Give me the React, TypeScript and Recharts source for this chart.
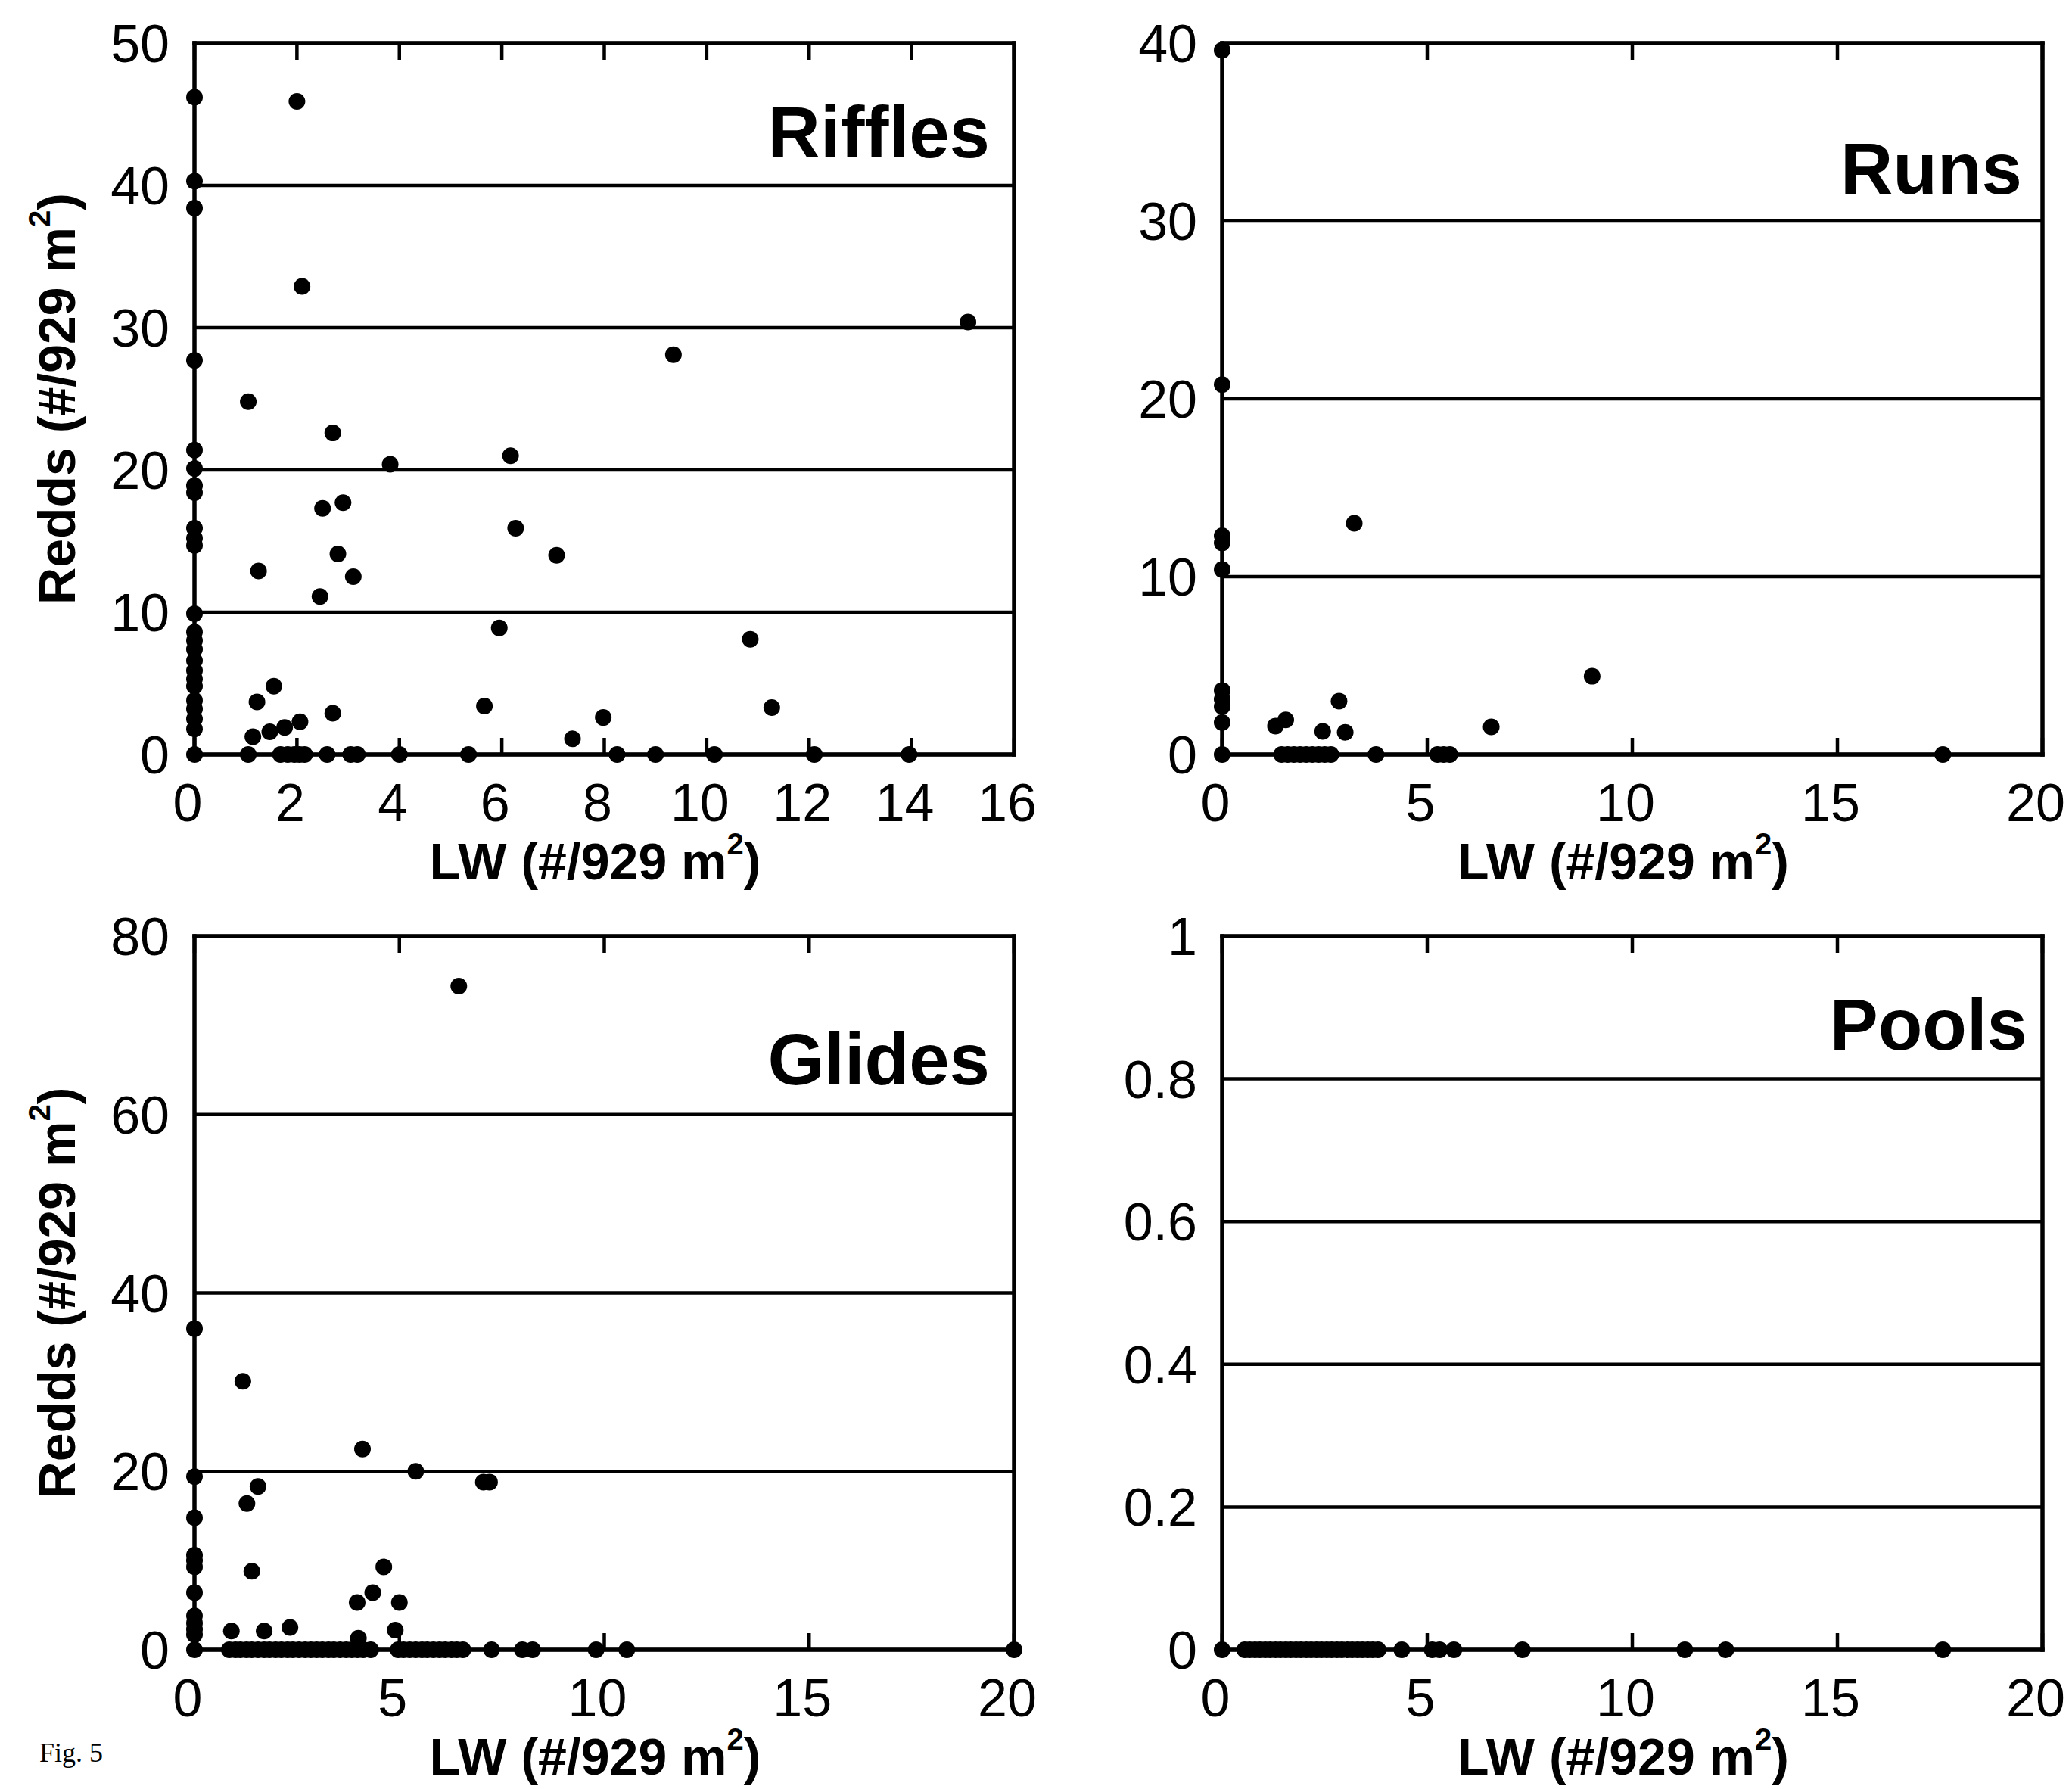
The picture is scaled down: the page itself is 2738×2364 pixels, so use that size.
import React from 'react';
import { ScatterChart, Scatter, XAxis, YAxis, CartesianGrid } from 'recharts';

type Pt = [number, number];

// ---------- data ----------
const rifflesPoints: Pt[] = [
  [0, 46.2], [0, 40.3], [0, 38.4], [0, 27.7], [0, 21.4], [0, 20.1], [0, 18.9], [0, 18.4],
  [0, 15.9], [0, 15.2], [0, 14.7], [0, 9.9], [0, 8.6], [0, 8.0], [0, 7.4], [0, 6.6],
  [0, 5.9], [0, 5.3], [0, 4.8], [0, 3.8], [0, 3.2], [0, 2.5], [0, 1.8], [0, 0],
  [2.0, 45.9], [2.1, 32.9], [15.1, 30.4], [9.35, 28.1], [1.05, 24.8], [2.7, 22.6],
  [3.82, 20.4], [6.17, 21.0], [2.5, 17.3], [2.9, 17.7], [6.27, 15.9], [2.8, 14.1],
  [7.07, 14.0], [1.25, 12.9], [3.1, 12.5], [2.45, 11.1], [5.95, 8.9], [10.85, 8.1],
  [1.55, 4.8], [1.22, 3.7], [5.66, 3.4], [11.27, 3.3], [2.7, 2.9], [7.98, 2.6],
  [2.06, 2.3], [1.76, 1.9], [1.47, 1.6], [1.14, 1.25], [7.38, 1.1],
  [1.05, 0], [1.68, 0], [1.82, 0], [1.95, 0], [2.05, 0], [2.15, 0], [2.59, 0],
  [3.05, 0], [3.18, 0], [4.0, 0], [5.35, 0], [8.25, 0], [9.0, 0], [10.15, 0],
  [12.1, 0], [13.95, 0],
];

const runsPoints: Pt[] = [
  [0, 39.6], [0, 20.8], [0, 12.3], [0, 11.9], [0, 10.4], [0, 3.6], [0, 3.1], [0, 2.7],
  [0, 1.8], [0, 0],
  [3.22, 13.0], [9.02, 4.4], [2.85, 3.0], [1.3, 1.6], [1.55, 1.95], [2.45, 1.3],
  [3.0, 1.25], [6.56, 1.55],
  [1.45, 0], [1.6, 0], [1.75, 0], [1.9, 0], [2.05, 0], [2.2, 0], [2.35, 0], [2.5, 0],
  [2.65, 0], [3.75, 0], [5.25, 0], [5.4, 0], [5.55, 0], [17.57, 0],
];

const glidesPoints: Pt[] = [
  [0, 36.0], [0, 19.4], [0, 14.8], [0, 10.6], [0, 10.0], [0, 9.3], [0, 6.4], [0, 3.8],
  [0, 3.0], [0, 2.3], [0, 1.7], [0, 0],
  [6.45, 74.4], [1.18, 30.1], [4.1, 22.5], [5.4, 20.0], [7.05, 18.8], [7.2, 18.8],
  [1.55, 18.3], [1.28, 16.4], [1.4, 8.8], [4.62, 9.3], [4.35, 6.4], [3.97, 5.3],
  [5.0, 5.3], [2.33, 2.5], [0.9, 2.1], [1.7, 2.1], [4.9, 2.2], [4.0, 1.3],
  [0.85, 0], [1.0, 0], [1.12, 0], [1.27, 0], [1.4, 0], [1.55, 0], [1.7, 0], [1.83, 0],
  [1.98, 0], [2.12, 0], [2.27, 0], [2.4, 0], [2.55, 0], [2.7, 0], [2.84, 0], [2.98, 0],
  [3.12, 0], [3.27, 0], [3.4, 0], [3.55, 0], [3.7, 0], [3.84, 0], [3.98, 0], [4.12, 0],
  [4.3, 0], [4.97, 0], [5.1, 0], [5.25, 0], [5.4, 0], [5.55, 0], [5.68, 0], [5.83, 0],
  [5.98, 0], [6.12, 0], [6.27, 0], [6.4, 0], [6.55, 0], [7.25, 0], [8.0, 0], [8.25, 0],
  [9.8, 0], [10.55, 0], [20, 0],
];

const poolsPoints: Pt[] = [
  [0, 0], [0.55, 0], [0.67, 0], [0.8, 0], [0.92, 0], [1.05, 0], [1.17, 0], [1.3, 0],
  [1.42, 0], [1.55, 0], [1.67, 0], [1.8, 0], [1.92, 0], [2.05, 0], [2.17, 0], [2.3, 0],
  [2.42, 0], [2.55, 0], [2.67, 0], [2.8, 0], [2.92, 0], [3.05, 0], [3.17, 0], [3.3, 0],
  [3.42, 0], [3.55, 0], [3.67, 0], [3.8, 0], [4.38, 0], [5.12, 0], [5.3, 0], [5.65, 0],
  [7.32, 0], [11.28, 0], [12.28, 0], [17.57, 0],
];

const rifflesXTicks = [0, 2, 4, 6, 8, 10, 12, 14, 16];
const rifflesYTicks = [0, 10, 20, 30, 40, 50];
const runsXTicks = [0, 5, 10, 15, 20];
const runsYTicks = [0, 10, 20, 30, 40];
const glidesXTicks = [0, 5, 10, 15, 20];
const glidesYTicks = [0, 20, 40, 60, 80];
const poolsXTicks = [0, 5, 10, 15, 20];
const poolsYTicks = [0, 0.2, 0.4, 0.6, 0.8, 1];

const titles = ['Riffles', 'Runs', 'Glides', 'Pools'];
const xLabelText = 'LW (#/929 m';
const yLabelText = 'Redds (#/929 m';
const figLabel = 'Fig. 5';

// ---------- layout ----------
const FONT = '"Liberation Sans", Arial, Helvetica, sans-serif';
const W = 1369;
const H = 1182;
const TICK_LEN = 22;
const TICK_W = 4.5;

interface PanelProps {
  points: Pt[];
  xTicks: number[];
  yTicks: number[];
  title: string;
  titleDx: number;
  titleDy: number;
  showYLabel: boolean;
  plotLeft: number;
  plotTop: number;
  plotRight: number;
  plotBottom: number;
  fig?: boolean;
}

function Panel(p: PanelProps) {
  const data = p.points.map(([x, y]) => ({ x, y }));
  const xDomain: [number, number] = [p.xTicks[0], p.xTicks[p.xTicks.length - 1]];
  const yDomain: [number, number] = [p.yTicks[0], p.yTicks[p.yTicks.length - 1]];
  const cx = (p.plotLeft + p.plotRight) / 2;
  const cy = (p.plotTop + p.plotBottom) / 2;
  const lineStyle = { stroke: '#000', strokeWidth: 5.5, strokeLinecap: 'square' as const };

  const BottomTick = (tp: any) => (
    <g>
      <rect
        x={tp.x - TICK_W / 2}
        y={p.plotBottom - TICK_LEN}
        width={TICK_W}
        height={TICK_LEN}
        fill="#000"
      />
      <rect
        x={tp.x - TICK_W / 2}
        y={p.plotTop}
        width={TICK_W}
        height={TICK_LEN}
        fill="#000"
      />
      <text
        x={tp.x - 9}
        y={p.plotBottom + 88}
        textAnchor="middle"
        fontFamily={FONT}
        fontSize={70}
        fill="#000"
      >
        {String(tp.payload.value)}
      </text>
    </g>
  );
  const LeftTick = (tp: any) => (
    <text
      x={p.plotLeft - 33}
      y={tp.y}
      dy={25}
      textAnchor="end"
      fontFamily={FONT}
      fontSize={70}
      fill="#000"
    >
      {String(tp.payload.value)}
    </text>
  );
  const NoTick = () => <g />;

  return (
    <ScatterChart
      width={W}
      height={H}
      margin={{ top: p.plotTop - 1, left: 0, right: W - p.plotRight - 1, bottom: 0 }}
    >
      <CartesianGrid
        xAxisId="b"
        yAxisId="l"
        horizontal
        vertical={false}
        stroke="#000"
        strokeWidth={4.5}
        fill="none"
      />
      <XAxis
        xAxisId="b"
        dataKey="x"
        type="number"
        orientation="bottom"
        domain={xDomain}
        ticks={p.xTicks}
        interval={0}
        height={H - p.plotBottom}
        axisLine={lineStyle}
        tickLine={false}
        tick={BottomTick}
      />
      <XAxis
        xAxisId="t"
        type="number"
        orientation="top"
        domain={xDomain}
        ticks={p.xTicks}
        interval={0}
        height={1}
        allowDataOverflow
        axisLine={lineStyle}
        tickLine={false}
        tick={NoTick}
      />
      <YAxis
        yAxisId="l"
        dataKey="y"
        type="number"
        orientation="left"
        domain={yDomain}
        ticks={p.yTicks}
        interval={0}
        width={p.plotLeft}
        axisLine={lineStyle}
        tickLine={false}
        tick={LeftTick}
      />
      <YAxis
        yAxisId="r"
        type="number"
        orientation="right"
        domain={yDomain}
        ticks={p.yTicks}
        interval={0}
        width={1}
        allowDataOverflow
        axisLine={lineStyle}
        tickLine={false}
        tick={NoTick}
      />
      <Scatter
        xAxisId="b"
        yAxisId="l"
        data={data}
        fill="#000"
        isAnimationActive={false}
        shape={(sp: any) => <circle cx={sp.cx} cy={sp.cy} r={11} fill="#000" />}
      />
      <text
        x={p.plotRight + p.titleDx}
        y={p.plotTop + p.titleDy}
        textAnchor="end"
        fontFamily={FONT}
        fontWeight="bold"
        fontSize={96}
        fill="#000"
      >
        {p.title}
      </text>
      <text
        x={cx - 12}
        y={p.plotBottom + 165}
        textAnchor="middle"
        fontFamily={FONT}
        fontWeight="bold"
        fontSize={68}
        fill="#000"
      >
        {xLabelText}
        <tspan dy={-33} fontSize={40}>2</tspan>
        <tspan dy={33}>)</tspan>
      </text>
      {p.showYLabel && (
        <text
          x={99}
          y={cy}
          transform={`rotate(-90, 99, ${cy})`}
          textAnchor="middle"
          fontFamily={FONT}
          fontWeight="bold"
          fontSize={68}
          fill="#000"
        >
          {yLabelText}
          <tspan dy={-33} fontSize={40}>2</tspan>
          <tspan dy={33}>)</tspan>
        </text>
      )}
      {p.fig && (
        <text
          x={52}
          y={1146}
          fontFamily='"Liberation Serif", "Times New Roman", serif'
          fontSize={36}
          fill="#000"
        >
          {figLabel}
        </text>
      )}
    </ScatterChart>
  );
}

export default function App() {
  return (
    <div
      style={{
        position: 'absolute',
        left: 0,
        top: 0,
        width: 2738,
        height: 2364,
        background: '#fff',
        overflow: 'hidden',
      }}
    >
      <div style={{ position: 'absolute', left: 0, top: 0 }}>
        <Panel
          points={rifflesPoints}
          xTicks={rifflesXTicks}
          yTicks={rifflesYTicks}
          title={titles[0]}
          titleDx={-32}
          titleDy={151}
          showYLabel
          plotLeft={257}
          plotTop={57}
          plotRight={1340}
          plotBottom={997}
        />
      </div>
      <div style={{ position: 'absolute', left: 1369, top: 0 }}>
        <Panel
          points={runsPoints}
          xTicks={runsXTicks}
          yTicks={runsYTicks}
          title={titles[1]}
          titleDx={-27}
          titleDy={199}
          showYLabel={false}
          plotLeft={246}
          plotTop={57}
          plotRight={1330}
          plotBottom={997}
        />
      </div>
      <div style={{ position: 'absolute', left: 0, top: 1182 }}>
        <Panel
          points={glidesPoints}
          xTicks={glidesXTicks}
          yTicks={glidesYTicks}
          title={titles[2]}
          titleDx={-32}
          titleDy={196}
          showYLabel
          plotLeft={257}
          plotTop={55}
          plotRight={1340}
          plotBottom={998}
          fig
        />
      </div>
      <div style={{ position: 'absolute', left: 1369, top: 1182 }}>
        <Panel
          points={poolsPoints}
          xTicks={poolsXTicks}
          yTicks={poolsYTicks}
          title={titles[3]}
          titleDx={-20}
          titleDy={150}
          showYLabel={false}
          plotLeft={246}
          plotTop={55}
          plotRight={1330}
          plotBottom={998}
        />
      </div>
    </div>
  );
}
